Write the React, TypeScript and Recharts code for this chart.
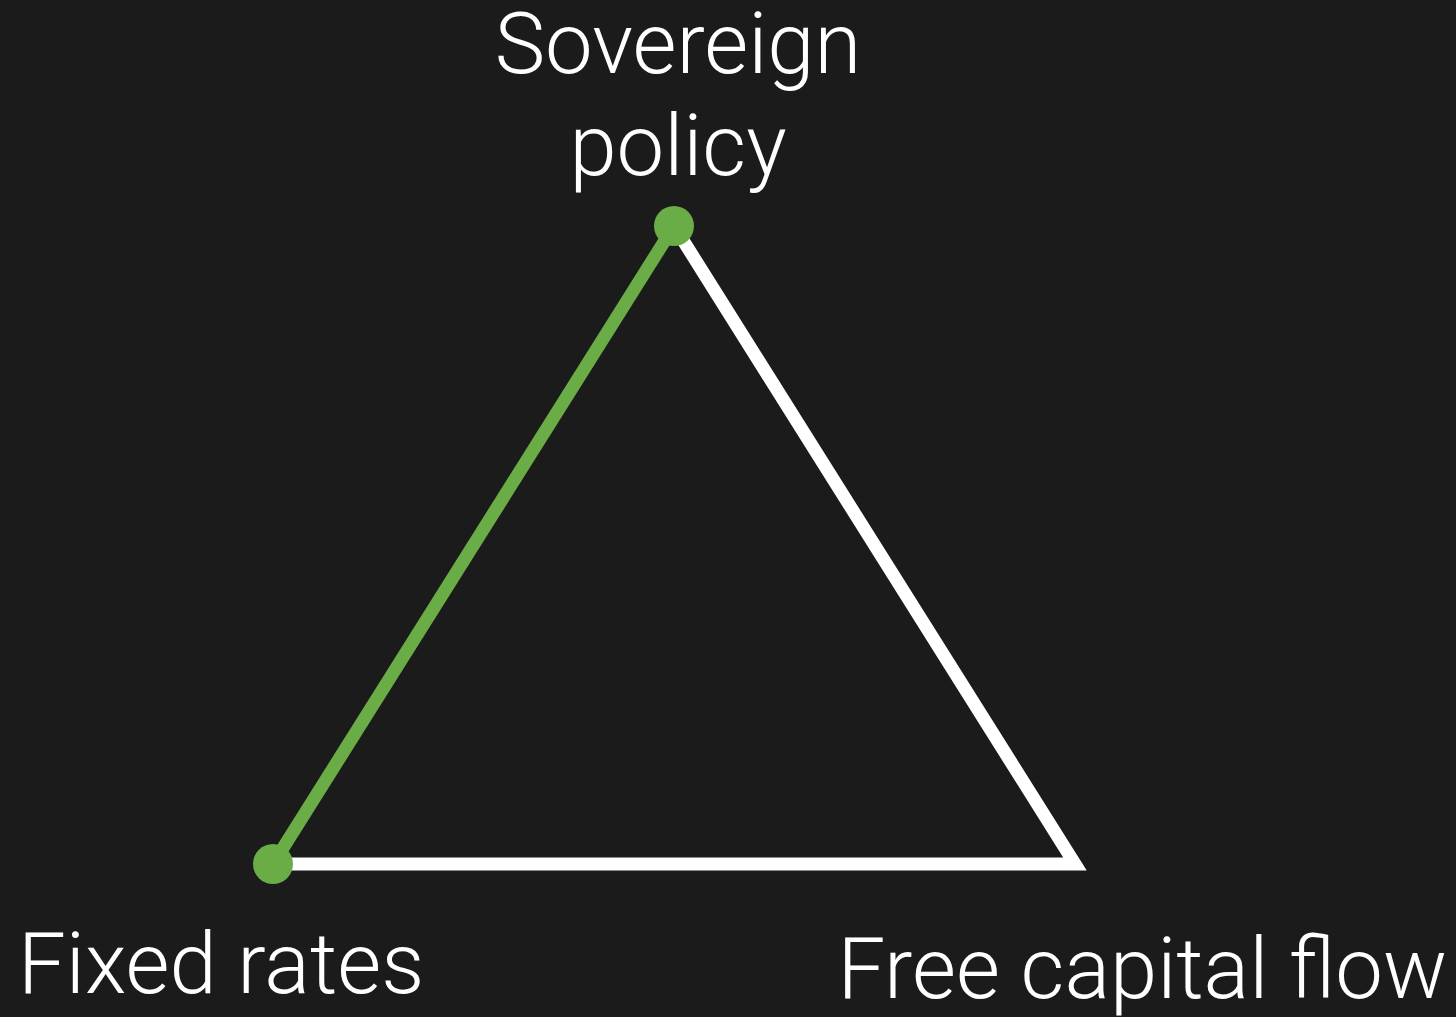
import React from "react";
import { LineChart, Line, XAxis, YAxis } from "recharts";

// Vertices of the trilemma triangle (abstract coordinates)
const vertexNames = ["Fixed rates", "Sovereign policy", "Free capital flow"];
const vertexX = [0, 1, 2];
const vertexY = [0, 1, 0];

// White outline: top -> BR -> BL
const outlineOrder = [1, 2, 0];
// Green highlighted edge: BL -> top
const highlightOrder = [0, 1];

const outlineData = outlineOrder.map((i) => ({ name: vertexNames[i], x: vertexX[i], y: vertexY[i] }));
const highlightData = highlightOrder.map((i) => ({ name: vertexNames[i], x: vertexX[i], y: vertexY[i] }));

const BG = "#1b1b1b";
const GREEN = "#6aad47";
const FONT = "Roboto, 'Noto Sans', sans-serif";

export default function App() {
  React.useEffect(() => {
    document.body.style.margin = "0";
    document.body.style.background = BG;
  }, []);

  return (
    <div style={{ position: "absolute", left: 0, top: 0, width: 1456, height: 1017, background: BG, overflow: "hidden" }}>
      <LineChart
        width={1456}
        height={1017}
        margin={{ top: 226, right: 381, bottom: 153, left: 273 }}
        style={{ overflow: "visible" }}
      >
        <XAxis type="number" dataKey="x" domain={[0, 2]} hide />
        <YAxis type="number" dataKey="y" domain={[0, 1]} hide />
        <Line
          data={outlineData}
          dataKey="y"
          type="linear"
          stroke="#ffffff"
          strokeWidth={13}
          strokeLinejoin="miter"
          strokeMiterlimit={10}
          dot={false}
          activeDot={false}
          isAnimationActive={false}
        />
        <Line
          data={highlightData}
          dataKey="y"
          type="linear"
          stroke={GREEN}
          strokeWidth={13}
          dot={{ r: 20, fill: GREEN, stroke: "none", strokeWidth: 0 }}
          activeDot={false}
          isAnimationActive={false}
        />
      </LineChart>
      <svg
        width={1456}
        height={1017}
        style={{ position: "absolute", left: 0, top: 0, pointerEvents: "none" }}
      >
        <g fill="#ffffff" fontFamily={FONT} fontWeight={300} fontSize={85}>
          <text x={678} y={73} textAnchor="middle">Sovereign</text>
          <text x={678} y={175} textAnchor="middle">policy</text>
          <text x={18} y={993} textAnchor="start">{vertexNames[0]}</text>
          <text x={1447} y={998} textAnchor="end">{vertexNames[2]}</text>
        </g>
      </svg>
    </div>
  );
}
